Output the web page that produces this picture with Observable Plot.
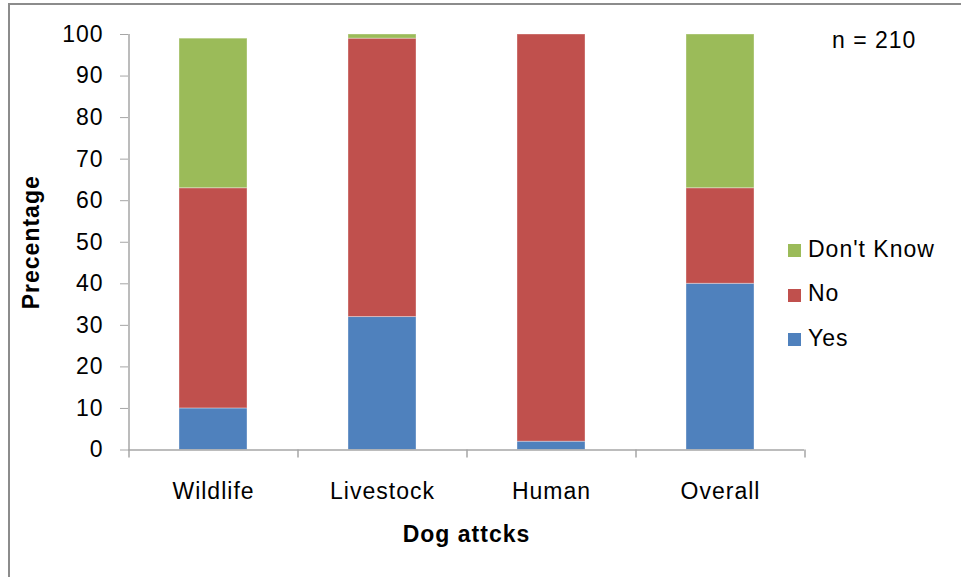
<!DOCTYPE html>
<html><head><meta charset="utf-8">
<script src="https://cdn.jsdelivr.net/npm/d3@7"></script>
<script src="https://cdn.jsdelivr.net/npm/@observablehq/plot@0.6"></script>
<style>
body{margin:0;background:#fff;}
#wrap{position:relative;width:961px;height:577px;overflow:hidden;font-family:"Liberation Sans",Arial,sans-serif;color:#000;}
#border{position:absolute;left:8px;top:3px;width:2000px;height:2000px;border-top:2px solid #8c8c8c;border-left:2px solid #8c8c8c;pointer-events:none;}
.lab{position:absolute;font-size:23px;line-height:23px;letter-spacing:1px;white-space:nowrap;}
.sw{position:absolute;width:13px;height:13px;}
#chart{position:absolute;left:0;top:0;}
</style>
</head><body>
<div id="wrap">
  <div id="chart"></div>
  <div id="border"></div>
  <div id="extras"></div>
</div>
<script>
const categories = ["Wildlife", "Livestock", "Human", "Overall"];
const yesValues = [10, 32, 2, 40];
const noValues = [53, 67, 98, 23];
const dontKnowValues = [36, 1, 0, 37];
const seriesNames = ["Yes", "No", "Don't Know"];
const seriesColors = ["#4F81BD", "#C0504D", "#9BBB59"];
const yTicks = [0, 10, 20, 30, 40, 50, 60, 70, 80, 90, 100];
const xTitle = "Dog attcks";
const yTitle = "Precentage";
const note = "n = 210";

const seriesValues = [yesValues, noValues, dontKnowValues];
const data = [];
seriesNames.forEach((s, si) => categories.forEach((c, ci) => data.push({category: c, series: s, value: seriesValues[si][ci]})));

const W = 961, H = 577, mL = 128, mR = 157, mT = 34, mB = 127.5;
const step = (W - mL - mR) / categories.length;
const axisGray = "#a6a6a6";

const chart = Plot.plot({
  width: W, height: H,
  marginLeft: mL, marginRight: mR, marginTop: mT, marginBottom: mB,
  style: {fontFamily: "'Liberation Sans', Arial, sans-serif", fontSize: "23px", color: "#000", background: "transparent", letterSpacing: "1px"},
  x: {domain: categories, paddingInner: 0.6, paddingOuter: 0.3, label: null},
  y: {domain: [0, 100], label: null},
  color: {domain: seriesNames, range: seriesColors},
  marks: [
    Plot.barY(data, {x: "category", y: "value", fill: "series", order: seriesNames, stroke: "#fff", strokeOpacity: 0.35, strokeWidth: 1}),
    Plot.ruleY([0], {stroke: axisGray, strokeWidth: 1.5}),
    Plot.ruleX(categories, {x: d => d, dx: -step / 2, y1: (d, i) => i === 0 ? 100 : 0, y2: 0, insetBottom: -8, stroke: axisGray, strokeWidth: 1.5}),
    Plot.ruleX([categories[categories.length - 1]], {x: d => d, dx: step / 2, y1: 0, y2: 0, insetBottom: -8, stroke: axisGray, strokeWidth: 1.5}),
    Plot.axisY(yTicks, {tickSize: 8, tickPadding: 17, stroke: axisGray, fill: "#000", label: null}),
    Plot.axisX({tickSize: 0, tickPadding: 33, fill: "#000", label: null}),
    Plot.text([yTitle], {frameAnchor: "left", textAnchor: "middle", rotate: -90, dx: -97, fontWeight: "bold", fill: "#000"}),
    Plot.text([xTitle], {frameAnchor: "bottom", dy: 92, fontWeight: "bold", fill: "#000"})
  ]
});
document.getElementById("chart").appendChild(chart);

const extras = document.getElementById("extras");
function addLabel(text, left, baseline) {
  const d = document.createElement("div");
  d.className = "lab";
  d.textContent = text;
  d.style.left = left + "px";
  d.style.top = (baseline - 19.5) + "px";
  extras.appendChild(d);
}
addLabel(note, 832, 48);
const legendOrder = [2, 1, 0];
const legendBaselines = [257, 301.5, 346];
legendOrder.forEach((si, k) => {
  const sw = document.createElement("div");
  sw.className = "sw";
  sw.style.background = seriesColors[si];
  sw.style.left = "788px";
  sw.style.top = (legendBaselines[k] - 13) + "px";
  extras.appendChild(sw);
  addLabel(seriesNames[si], 808, legendBaselines[k]);
});
</script>
</body></html>
